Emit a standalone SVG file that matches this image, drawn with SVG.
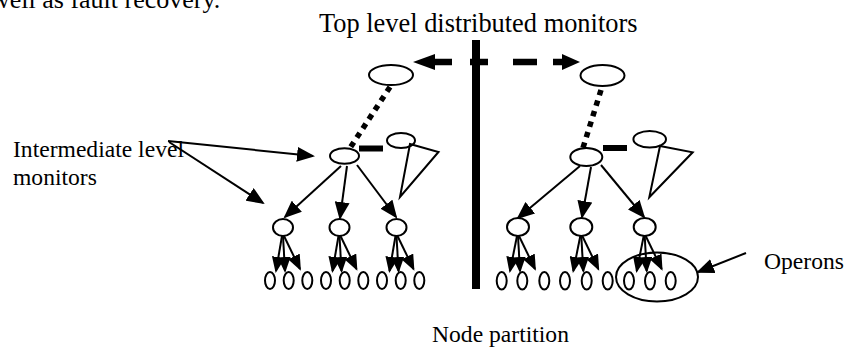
<svg xmlns="http://www.w3.org/2000/svg" width="847" height="348" viewBox="0 0 847 348">
<style>
.n{fill:#fff;stroke:#000;stroke-width:2}
.t{font-family:"Liberation Serif","Times New Roman",serif;fill:#000}
.lb{font-size:23.6px}
.c{fill:none;stroke:#000;stroke-width:2}
.cb{marker-end:url(#ah)}
.cs{marker-end:url(#as)}
.dot{fill:none;stroke:#000;stroke-width:5.5;stroke-dasharray:5.5 5.5}
.bh{fill:#000}
</style>
<defs>
<marker id="ah" markerUnits="userSpaceOnUse" markerWidth="18" markerHeight="15" refX="16" refY="7.5" orient="auto" viewBox="0 0 18 15">
<path d="M0,0 L18,7.5 L0,15 z" fill="#000"/>
</marker>
<marker id="as" markerUnits="userSpaceOnUse" markerWidth="16" markerHeight="13" refX="14" refY="6.5" orient="auto" viewBox="0 0 16 13">
<path d="M0,0 L16,6.5 L0,13 z" fill="#000"/>
</marker>
</defs>
<rect width="847" height="348" fill="#fff"/>

<text class="t" x="-9" y="8" font-size="26">well as fault recovery.</text>
<text class="t" x="319" y="31.5" font-size="26.4">Top level distributed monitors</text>
<text class="t lb" x="13" y="157">Intermediate level</text>
<text class="t lb" x="13" y="184.5">monitors</text>
<text class="t lb" x="764" y="269">Operons</text>
<text class="t lb" x="432" y="342">Node partition</text>

<g id="partition"><rect x="472" y="40" width="8" height="249" fill="#000"/></g>

<g id="connectors">
<path d="M434,62 H452 M470,62 H488 M513,62 H537 M553,62 H564" fill="none" stroke="#000" stroke-width="6.5"/>
<polygon class="bh" points="413,62 435,54 435,70"/>
<polygon class="bh" points="580,62 562,54 562,70"/>
<path class="dot" d="M390,87 L350,148"/>
<path class="dot" d="M601,90 L582,151"/>
<rect x="359" y="145.5" width="24" height="6" fill="#000"/>
<rect x="603" y="145" width="24" height="6" fill="#000"/>
<path class="c cb" d="M168,141 L313,156"/>
<path class="c cb" d="M169,142 L263,203"/>
<path class="c cb" d="M746,253 L698,272"/>
<path class="c cb" d="M341,166 L285,217"/>
<path class="c cb" d="M347,166 L340,218"/>
<path class="c cb" d="M357,165 L396,217"/>
<path class="c cb" d="M580,166 L518,218"/>
<path class="c cb" d="M591,167 L582,217"/>
<path class="c cb" d="M601,165 L644,217"/>
<path class="c cs" d="M282,236 L276,271"/>
<path class="c cs" d="M283,236 L285,271"/>
<path class="c cs" d="M284,236 L300,269"/>
<path class="c cs" d="M338.5,236 L332.5,271"/>
<path class="c cs" d="M339.5,236 L341.5,271"/>
<path class="c cs" d="M340.5,236 L356.5,269"/>
<path class="c cs" d="M395.5,236 L389.5,271"/>
<path class="c cs" d="M396.5,236 L398.5,271"/>
<path class="c cs" d="M397.5,236 L413.5,269"/>
<path class="c cs" d="M517,236 L510,271"/>
<path class="c cs" d="M518,236 L520,271"/>
<path class="c cs" d="M519,236 L535,269"/>
<path class="c cs" d="M580.3,236 L573.3,271"/>
<path class="c cs" d="M581.3,236 L583.3,271"/>
<path class="c cs" d="M582.3,236 L598.3,269"/>
<path class="c cs" d="M643.7,236 L636.7,271"/>
<path class="c cs" d="M644.7,236 L646.7,271"/>
<path class="c cs" d="M645.7,236 L661.7,269"/>
</g>

<g id="top-left"><ellipse class="n" cx="391" cy="75" rx="22" ry="10"/></g>
<g id="top-right"><ellipse class="n" cx="602.5" cy="75.5" rx="22" ry="10.5"/></g>
<g id="mid-left"><ellipse class="n" cx="344.5" cy="156" rx="14.5" ry="7.8"/></g>
<g id="mid-right"><ellipse class="n" cx="586.3" cy="157" rx="16" ry="9"/></g>
<g id="tri-left"><ellipse class="n" cx="401" cy="140.5" rx="14" ry="7.5"/><path class="c" d="M410,144 L438.5,152 L400,197 Z"/></g>
<g id="tri-right"><ellipse class="n" cx="649.7" cy="139.3" rx="16.3" ry="8.3"/><path class="c" d="M660,146 L692.7,152.3 L649.3,197.3 Z"/></g>

<g id="child-l1"><ellipse class="n" cx="283" cy="227.5" rx="10" ry="8.5"/></g>
<g id="child-l2"><ellipse class="n" cx="339.5" cy="227.5" rx="10" ry="8.5"/></g>
<g id="child-l3"><ellipse class="n" cx="396.5" cy="227.5" rx="10" ry="8.5"/></g>
<g id="child-r1"><ellipse class="n" cx="518" cy="227" rx="11" ry="9"/></g>
<g id="child-r2"><ellipse class="n" cx="581.3" cy="227" rx="11" ry="9"/></g>
<g id="child-r3"><ellipse class="n" cx="644.7" cy="227" rx="11" ry="9"/></g>

<g id="leaves-left">
<ellipse class="n" cx="270" cy="280.5" rx="5" ry="8.5"/>
<ellipse class="n" cx="288.7" cy="280.5" rx="5" ry="8.5"/>
<ellipse class="n" cx="307.3" cy="280.5" rx="5" ry="8.5"/>
<ellipse class="n" cx="326" cy="280.5" rx="5" ry="8.5"/>
<ellipse class="n" cx="344.7" cy="280.5" rx="5" ry="8.5"/>
<ellipse class="n" cx="363.3" cy="280.5" rx="5" ry="8.5"/>
<ellipse class="n" cx="382" cy="280.5" rx="5" ry="8.5"/>
<ellipse class="n" cx="400.7" cy="280.5" rx="5" ry="8.5"/>
<ellipse class="n" cx="419.3" cy="280.5" rx="5" ry="8.5"/>
</g>
<g id="leaves-right">
<ellipse class="n" cx="501.7" cy="280.8" rx="5" ry="8.7"/>
<ellipse class="n" cx="522.3" cy="280.8" rx="5" ry="8.7"/>
<ellipse class="n" cx="544.3" cy="280.8" rx="5" ry="8.7"/>
<ellipse class="n" cx="565" cy="280.8" rx="5" ry="8.7"/>
<ellipse class="n" cx="586.7" cy="280.8" rx="5" ry="8.7"/>
<ellipse class="n" cx="607.7" cy="280.8" rx="5" ry="8.7"/>
<ellipse class="n" cx="629" cy="280.8" rx="5" ry="8.7"/>
<ellipse class="n" cx="650" cy="280.8" rx="5" ry="8.7"/>
<ellipse class="n" cx="670.7" cy="280.8" rx="5" ry="8.7"/>
</g>
<g id="operons"><ellipse cx="657" cy="277" rx="41" ry="24.5" fill="none" stroke="#000" stroke-width="2"/></g>
</svg>
